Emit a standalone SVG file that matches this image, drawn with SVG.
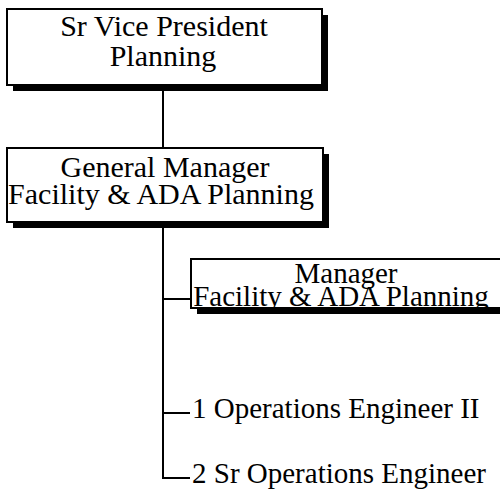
<svg xmlns="http://www.w3.org/2000/svg" width="500" height="491" viewBox="0 0 500 491">
<style>
.box{fill:#fff;stroke:#000;stroke-width:2}
.shadow{fill:#000}
.t{font-family:"Liberation Serif","Times New Roman",serif;font-size:30px;fill:#000;text-anchor:middle}
.m{font-family:"Liberation Serif","Times New Roman",serif;font-size:29px;fill:#000;text-anchor:middle}
.l{font-family:"Liberation Serif","Times New Roman",serif;font-size:29px;fill:#000}
.c{stroke:#000;stroke-width:2;fill:none}
</style>
<rect width="500" height="491" fill="#fff"/>
<g id="connectors">
<path class="c" d="M163,85 V148"/>
<path class="c" d="M163,222 V478 H190"/>
<path class="c" d="M163,299 H191"/>
<path class="c" d="M163,413 H190"/>
</g>
<g id="svp">
<rect class="shadow" x="13" y="15" width="315" height="76"/>
<rect class="box" x="7" y="9" width="315" height="76"/>
<text class="t" x="164" y="36">Sr Vice President</text>
<text class="t" x="163" y="66">Planning</text>
</g>
<g id="gm">
<rect class="shadow" x="13" y="154" width="316" height="74"/>
<rect class="box" x="7" y="148" width="316" height="74"/>
<text class="t" x="165" y="177">General Manager</text>
<text class="t" x="161" y="204">Facility &amp; ADA Planning</text>
</g>
<g id="mgr">
<rect class="shadow" x="197" y="265" width="320" height="49"/>
<rect class="box" x="191" y="259" width="320" height="49"/>
<text class="m" x="346" y="283">Manager</text>
<text class="m" x="341" y="306">Facility &amp; ADA Planning</text>
</g>
<g id="oe2">
<text class="l" x="192" y="418">1 Operations Engineer II</text>
</g>
<g id="soe">
<text class="l" x="192" y="483">2 Sr Operations Engineer</text>
</g>
</svg>
